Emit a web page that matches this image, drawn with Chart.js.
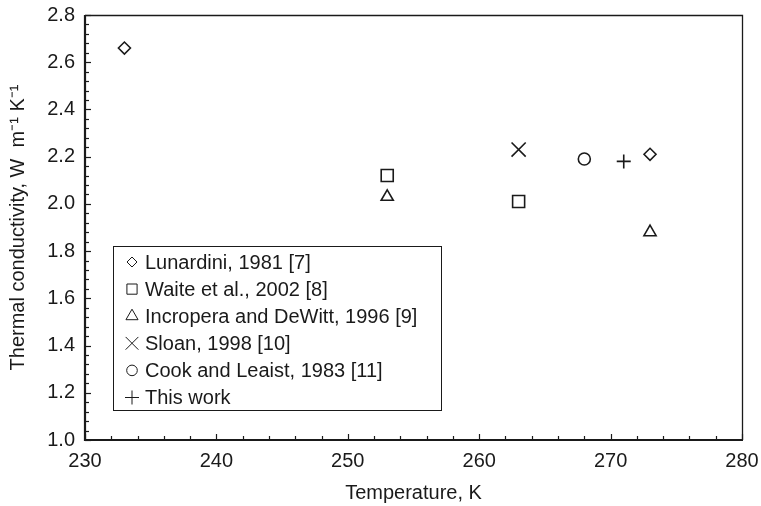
<!DOCTYPE html>
<html><head><meta charset="utf-8">
<script src="https://cdn.jsdelivr.net/npm/chart.js@4/dist/chart.umd.min.js"></script>
<style>html,body{margin:0;padding:0;background:#fff}#wrap{width:761px;height:506px}</style>
</head><body><div id="wrap"><canvas id="c" width="761" height="506"></canvas></div>
<script>
// ---- data ----
const seriesNames = ["Lunardini, 1981 [7]", "Waite et al., 2002 [8]", "Incropera and DeWitt, 1996 [9]", "Sloan, 1998 [10]", "Cook and Leaist, 1983 [11]", "This work"];
const lunardiniT = [233, 273];
const lunardiniK = [2.66, 2.21];
const waiteT = [253, 263];
const waiteK = [2.12, 2.01];
const incroperaT = [253, 273];
const incroperaK = [2.03, 1.88];
const sloanT = [263];
const sloanK = [2.23];
const cookT = [268];
const cookK = [2.19];
const thisWorkT = [271];
const thisWorkK = [2.18];
const xTickValues = [230, 240, 250, 260, 270, 280];
const yTickValues = [1.0, 1.2, 1.4, 1.6, 1.8, 2.0, 2.2, 2.4, 2.6, 2.8];
const xMinorStep = 2;
const yMinorStep = 0.04;

const INK = '#1a1a1a';
const FONT = '"Liberation Sans", Arial, Helvetica, sans-serif';
Chart.defaults.font.family = FONT;
Chart.defaults.font.size = 20;
Chart.defaults.color = INK;

function pts(xs, ys) { return xs.map((x, i) => ({ x: x, y: ys[i] })); }

const styles = [
  { pointStyle: 'rectRot', r: 6, lr: 5 },
  { pointStyle: 'rect', r: 8.5, lr: 7.2 },
  { pointStyle: 'triangle', r: 7, lr: 7 },
  { pointStyle: 'crossRot', r: 10, lr: 9 },
  { pointStyle: 'circle', r: 6, lr: 5.3 },
  { pointStyle: 'cross', r: 7, lr: 7 }
];
const seriesData = [
  pts(lunardiniT, lunardiniK), pts(waiteT, waiteK), pts(incroperaT, incroperaK),
  pts(sloanT, sloanK), pts(cookT, cookK), pts(thisWorkT, thisWorkK)
];

const datasets = seriesData.map((d, i) => ({
  label: seriesNames[i],
  data: d,
  pointStyle: styles[i].pointStyle,
  pointRadius: styles[i].r,
  pointHoverRadius: styles[i].r,
  borderColor: INK,
  backgroundColor: 'rgba(0,0,0,0)',
  pointBorderWidth: 1.6,
  showLine: false
}));

function genTicks(min, max, step) {
  const out = []; const n = Math.round((max - min) / step);
  for (let i = 0; i <= n; i++) out.push(min + i * step);
  return out;
}

const framePlugin = {
  id: 'frame',
  afterDraw(chart) {
    const { ctx, chartArea: a, scales: { x, y } } = chart;
    ctx.save();
    ctx.strokeStyle = INK;
    ctx.lineWidth = 1.2;
    const xs = genTicks(xTickValues[0], xTickValues[xTickValues.length - 1], xMinorStep);
    xs.forEach(v => {
      const px = Math.round(x.getPixelForValue(v)) + 0.5;
      const major = xTickValues.some(t => Math.abs(t - v) < 1e-6);
      const len = major ? 6 : 4;
      ctx.beginPath(); ctx.moveTo(px, a.bottom); ctx.lineTo(px, a.bottom - len); ctx.stroke();
    });
    const ys = genTicks(yTickValues[0], yTickValues[yTickValues.length - 1], yMinorStep);
    ys.forEach(v => {
      const py = Math.round(y.getPixelForValue(v)) + 0.5;
      const major = yTickValues.some(t => Math.abs(t - v) < 1e-6);
      const len = major ? 6 : 4;
      ctx.beginPath(); ctx.moveTo(a.left, py); ctx.lineTo(a.left + len, py); ctx.stroke();
    });
    ctx.lineWidth = 1.3;
    ctx.beginPath();
    ctx.moveTo(a.left, a.top + 0.5); ctx.lineTo(a.right + 0.5, a.top + 0.5); ctx.lineTo(a.right + 0.5, a.bottom);
    ctx.stroke();
    ctx.lineWidth = 2.2;
    ctx.beginPath();
    ctx.moveTo(a.left, a.top); ctx.lineTo(a.left, a.bottom); ctx.lineTo(a.right + 1, a.bottom);
    ctx.stroke();

    // legend box
    const bx = a.left + 28, by = a.top + 231, bw = 328, bh = 164;
    ctx.lineWidth = 1;
    ctx.strokeRect(bx + 0.5, by + 0.5, bw, bh);
    const rowH = 27.1;
    ctx.font = '20px ' + FONT;
    ctx.fillStyle = INK;
    ctx.textBaseline = 'middle';
    ctx.textAlign = 'left';
    chart.data.datasets.forEach((ds, i) => {
      const cy = by + 16 + i * rowH;
      ctx.save();
      ctx.strokeStyle = INK; ctx.fillStyle = 'rgba(0,0,0,0)';
      Chart.helpers.drawPoint(ctx, { pointStyle: ds.pointStyle, radius: styles[i].lr, rotation: 0, borderWidth: 1.5 }, bx + 19, cy);
      ctx.restore();
      ctx.fillText(ds.label, bx + 32, cy + 1);
    });
    ctx.restore();
  }
};

new Chart(document.getElementById('c'), {
  type: 'scatter',
  data: { datasets: datasets },
  options: {
    responsive: false,
    animation: false,
    devicePixelRatio: 1,
    layout: { padding: { left: 0, top: 15, right: 19, bottom: 0 } },
    plugins: { legend: { display: false }, tooltip: { enabled: false } },
    scales: {
      x: {
        type: 'linear', min: 230, max: 280,
        afterFit(s) { s.height = 66; s.paddingLeft = 0; s.paddingRight = 0; },
        afterBuildTicks(s) { s.ticks = xTickValues.map(v => ({ value: v })); },
        ticks: { padding: 9, color: INK, font: { size: 20 }, callback: v => String(v) },
        grid: { display: false, drawTicks: false },
        border: { display: false },
        title: { display: true, text: 'Temperature, K', color: INK, font: { size: 20 }, padding: { top: 0, bottom: 1 } }
      },
      y: {
        type: 'linear', min: 1.0, max: 2.8,
        afterFit(s) { s.width = 85; s.paddingTop = 0; s.paddingBottom = 0; },
        afterBuildTicks(s) { s.ticks = yTickValues.map(v => ({ value: v })); },
        ticks: { padding: 10, color: INK, font: { size: 20 }, callback: v => Number(v).toFixed(1) },
        grid: { display: false, drawTicks: false },
        border: { display: false },
        title: { display: true, text: 'Thermal conductivity, W  m\u207B\u00B9 K\u207B\u00B9', color: INK, font: { size: 20 }, padding: { top: 6, bottom: 0 } }
      }
    }
  },
  plugins: [framePlugin]
});
</script></body></html>
